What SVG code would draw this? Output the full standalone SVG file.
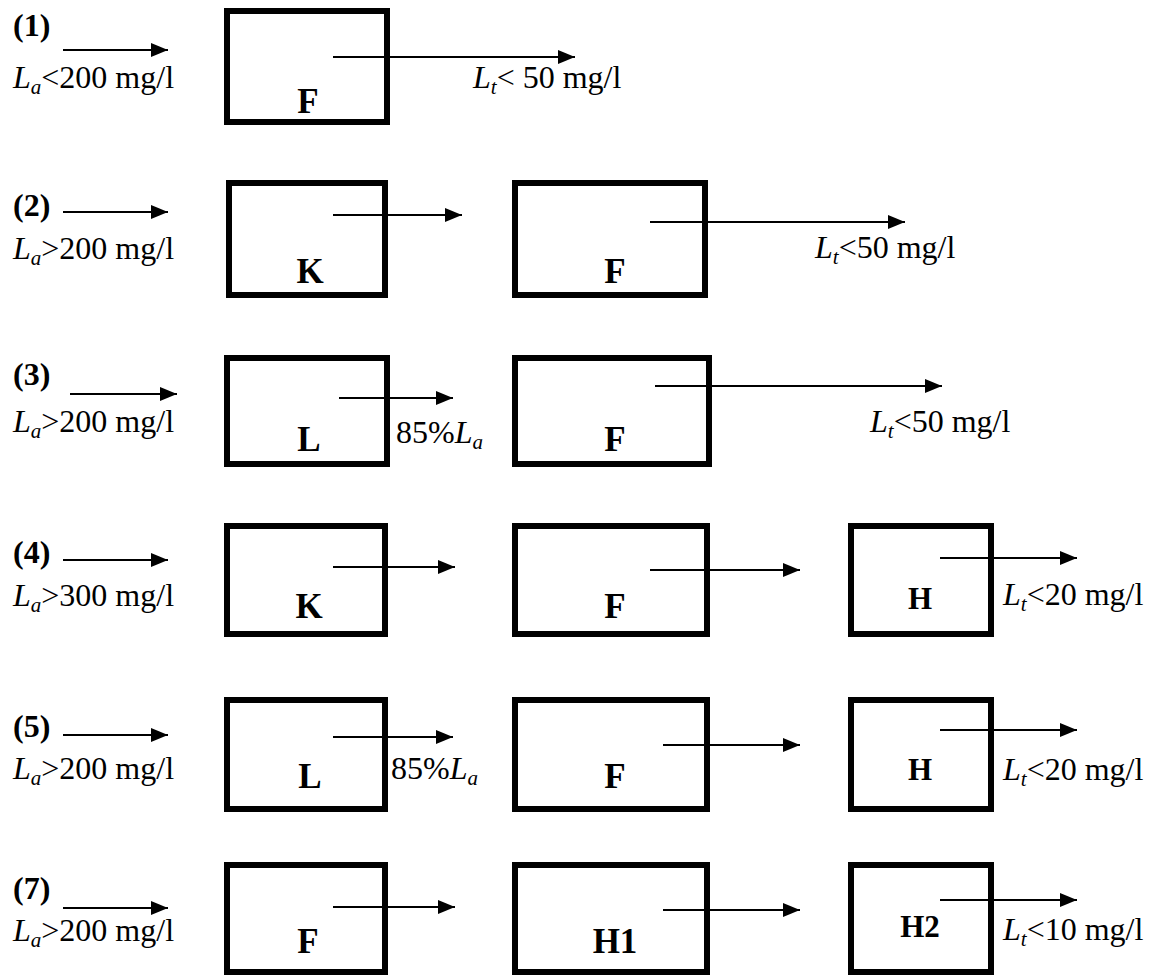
<svg xmlns="http://www.w3.org/2000/svg" width="1154" height="976" viewBox="0 0 1154 976">
<style>
text{font-family:"Liberation Serif","Times New Roman",serif;font-size:32px;fill:#000}
.num{font-weight:bold}
.lbl{font-weight:bold;text-anchor:middle;font-size:35px}
.lbs{font-weight:bold;text-anchor:middle;font-size:31px}
.it{font-style:italic}
.sub{font-style:italic;font-size:21px}
rect{fill:#fff;stroke:#000;stroke-width:6}
.conn line{stroke:#000;stroke-width:2;marker-end:url(#ah)}
</style>
<defs>
<marker id="ah" markerUnits="userSpaceOnUse" markerWidth="17" markerHeight="14" refX="17" refY="7" orient="auto">
<path d="M0,0 L17,7 L0,14 z" fill="#000"/>
</marker>
</defs>

<g id="row1">
<text class="num" x="13" y="36">(1)</text>
<text x="13" y="88"><tspan class="it">L</tspan><tspan class="sub" dy="6">a</tspan><tspan dy="-6">&lt;200 mg/l</tspan></text>
<g id="r1-F"><rect x="227" y="11" width="160" height="111"/><text class="lbl" x="308" y="113">F</text></g>
<text x="473" y="88"><tspan class="it">L</tspan><tspan class="sub" dy="6">t</tspan><tspan dy="-6">&lt; 50 mg/l</tspan></text>
</g>

<g id="row2">
<text class="num" x="13" y="216">(2)</text>
<text x="13" y="259"><tspan class="it">L</tspan><tspan class="sub" dy="6">a</tspan><tspan dy="-6">&gt;200 mg/l</tspan></text>
<g id="r2-K"><rect x="229" y="183" width="156" height="112"/><text class="lbl" x="310" y="283">K</text></g>
<g id="r2-F"><rect x="515" y="183" width="190" height="112"/><text class="lbl" x="615" y="283">F</text></g>
<text x="815" y="258"><tspan class="it">L</tspan><tspan class="sub" dy="6">t</tspan><tspan dy="-6">&lt;50 mg/l</tspan></text>
</g>

<g id="row3">
<text class="num" x="13" y="385">(3)</text>
<text x="13" y="432"><tspan class="it">L</tspan><tspan class="sub" dy="6">a</tspan><tspan dy="-6">&gt;200 mg/l</tspan></text>
<g id="r3-L"><rect x="227" y="358" width="160" height="106"/><text class="lbl" x="309" y="451">L</text></g>
<text x="396" y="443">85%<tspan class="it">L</tspan><tspan class="sub" dy="6">a</tspan></text>
<g id="r3-F"><rect x="515" y="358" width="194" height="106"/><text class="lbl" x="615" y="451">F</text></g>
<text x="870" y="432"><tspan class="it">L</tspan><tspan class="sub" dy="6">t</tspan><tspan dy="-6">&lt;50 mg/l</tspan></text>
</g>

<g id="row4">
<text class="num" x="13" y="563">(4)</text>
<text x="13" y="606"><tspan class="it">L</tspan><tspan class="sub" dy="6">a</tspan><tspan dy="-6">&gt;300 mg/l</tspan></text>
<g id="r4-K"><rect x="227" y="526" width="158" height="108"/><text class="lbl" x="309" y="618">K</text></g>
<g id="r4-F"><rect x="515" y="526" width="192" height="108"/><text class="lbl" x="615" y="618">F</text></g>
<g id="r4-H"><rect x="851" y="526" width="140" height="108"/><text class="lbs" x="920" y="609">H</text></g>
<text x="1003" y="605"><tspan class="it">L</tspan><tspan class="sub" dy="6">t</tspan><tspan dy="-6">&lt;20 mg/l</tspan></text>
</g>

<g id="row5">
<text class="num" x="13" y="737">(5)</text>
<text x="13" y="779"><tspan class="it">L</tspan><tspan class="sub" dy="6">a</tspan><tspan dy="-6">&gt;200 mg/l</tspan></text>
<g id="r5-L"><rect x="227" y="700" width="158" height="109"/><text class="lbl" x="310" y="788">L</text></g>
<text x="391" y="779">85%<tspan class="it">L</tspan><tspan class="sub" dy="6">a</tspan></text>
<g id="r5-F"><rect x="515" y="700" width="192" height="109"/><text class="lbl" x="615" y="788">F</text></g>
<g id="r5-H"><rect x="851" y="700" width="140" height="109"/><text class="lbs" x="920" y="780">H</text></g>
<text x="1003" y="780"><tspan class="it">L</tspan><tspan class="sub" dy="6">t</tspan><tspan dy="-6">&lt;20 mg/l</tspan></text>
</g>

<g id="row7">
<text class="num" x="13" y="899">(7)</text>
<text x="13" y="941"><tspan class="it">L</tspan><tspan class="sub" dy="6">a</tspan><tspan dy="-6">&gt;200 mg/l</tspan></text>
<g id="r7-F"><rect x="227" y="865" width="158" height="107"/><text class="lbl" x="308" y="953">F</text></g>
<g id="r7-H1"><rect x="515" y="865" width="192" height="107"/><text class="lbl" x="615" y="953">H1</text></g>
<g id="r7-H2"><rect x="851" y="865" width="140" height="107"/><text class="lbs" x="920" y="937">H2</text></g>
<text x="1003" y="940"><tspan class="it">L</tspan><tspan class="sub" dy="6">t</tspan><tspan dy="-6">&lt;10 mg/l</tspan></text>
</g>

<g id="connectors" class="conn">
<line x1="63" y1="50" x2="168" y2="50"/>
<line x1="333" y1="57" x2="575" y2="57"/>

<line x1="63" y1="212" x2="168" y2="212"/>
<line x1="333" y1="215" x2="462" y2="215"/>
<line x1="650" y1="222" x2="905" y2="222"/>

<line x1="70" y1="394" x2="177" y2="394"/>
<line x1="339" y1="398" x2="453" y2="398"/>
<line x1="655" y1="386" x2="942" y2="386"/>

<line x1="63" y1="560" x2="168" y2="560"/>
<line x1="333" y1="567" x2="455" y2="567"/>
<line x1="650" y1="570" x2="800" y2="570"/>
<line x1="940" y1="558" x2="1077" y2="558"/>

<line x1="63" y1="735" x2="168" y2="735"/>
<line x1="333" y1="737" x2="453" y2="737"/>
<line x1="663" y1="745" x2="800" y2="745"/>
<line x1="940" y1="730" x2="1077" y2="730"/>

<line x1="63" y1="908" x2="168" y2="908"/>
<line x1="333" y1="907" x2="455" y2="907"/>
<line x1="663" y1="910" x2="800" y2="910"/>
<line x1="940" y1="900" x2="1077" y2="900"/>
</g>
</svg>
